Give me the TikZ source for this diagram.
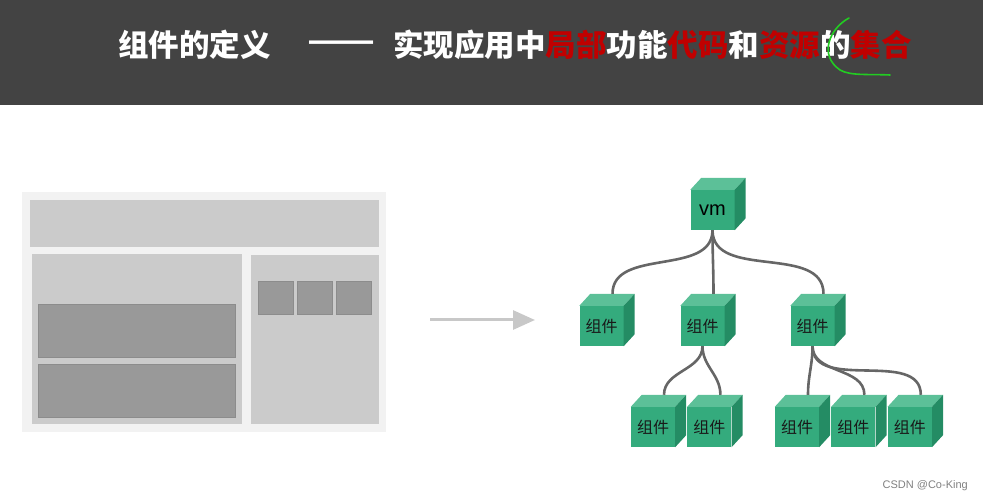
\documentclass[tikz,border=0pt]{standalone}
\usepackage{fontspec}
\setmainfont{Liberation Sans}
\newfontfamily\cjk{Noto Sans CJK SC}
\usetikzlibrary{positioning, calc, arrows.meta}

\definecolor{headbg}{HTML}{434343}
\definecolor{titlered}{HTML}{C00000}
\definecolor{pagebg}{HTML}{F2F2F2}
\definecolor{pagebox}{HTML}{CBCBCB}
\definecolor{pagedark}{HTML}{999999}
\definecolor{cubefront}{RGB}{52,171,125}
\definecolor{cubetop}{RGB}{92,192,152}
\definecolor{cubeside}{RGB}{36,140,100}
\definecolor{linkgray}{HTML}{666666}
\definecolor{arrowgray}{HTML}{C8C8C8}
\definecolor{penmark}{HTML}{22CC22}

\newcommand{\hl}[1]{\textcolor{titlered}{#1}}

\begin{document}
\begin{tikzpicture}[
    x=1pt, y=-1pt,
    % Styles
    title/.style={anchor=west, inner sep=0pt, text=white, font=\cjk\bfseries\fontsize{30.5}{31}\selectfont},
    block/.style={fill=pagebox},
    darkblock/.style={fill=pagedark, draw=black!45, line width=0.5pt},
    cube/.style={rectangle, fill=cubefront, minimum width=44pt, minimum height=40pt,
      inner sep=0pt, font=\cjk\fontsize{16}{16}\selectfont, text=black!90},
    link/.style={draw=linkgray, line width=2.6pt},
    lead/.style={draw=arrowgray, line width=3pt, -{Triangle[length=22pt, width=19pt]}}
  ]
  \useasboundingbox (0,0) rectangle (983,502);
  % 1. Header bar with the title
  \fill[headbg] (0,0) rectangle (983,105);
  \node[title] (name) at (118,45) {组件的定义};
  \node[title, transform shape, xscale=1.3] (dash) at (307,46) {——};
  \node[title] (meaning) at (393,45) {实现应用中\hl{局部}功能\hl{代码}和\hl{资源}的\hl{集合}};
  \draw[penmark, line width=1.6pt, line cap=round]
    (849,18) .. controls (830,28) and (818,55) .. (840,70)
    .. controls (850,76) and (870,74) .. (890,75);
  % 2. Page layout sketch
  \node[fill=pagebg, minimum width=364pt, minimum height=240pt, inner sep=0pt] (page) at (204,312) {};
  \fill[block] (30,200) rectangle (379,247);
  \fill[block] (32,254) rectangle (242,424);
  \fill[block] (251,255) rectangle (379,424);
  \filldraw[darkblock] (38,304) rectangle (235,357);
  \filldraw[darkblock] (38,364) rectangle (235,417);
  \foreach \x in {258,297,336}
    \filldraw[darkblock] (\x,281) rectangle ++(35,33);
  % 3. Arrow to the component tree
  \coordinate (from) at (430,320);
  \coordinate (to) at (535,320);
  \draw[lead] (from) -- (to);
  % 4. Component tree
  \node[cube, font=\fontsize{20}{20}\selectfont, text=black] (vm) at (712.5,210) {vm};
  \node[cube] (c1) at (601.5,326) {组件};
  \node[cube] (c2) at (702.5,326) {组件};
  \node[cube] (c3) at (812.5,326) {组件};
  \node[cube] (d1) at (653,427) {组件};
  \node[cube, right=12pt of d1] (d2) {组件};
  \node[cube] (e1) at (797,427) {组件};
  \node[cube, right=12pt of e1] (e2) {组件};
  \node[cube, right=12pt of e2] (e3) {组件};
  % top and side faces
  \foreach \n in {vm,c1,c2,c3,d1,d2,e1,e2,e3} {
    \fill[cubetop] (\n.north west) -- ++(11,-12) -- ([shift={(11,-12)}]\n.north east) -- (\n.north east) -- cycle;
    \fill[cubeside] (\n.north east) -- ++(11,-12) -- ([shift={(11,-12)}]\n.south east) -- (\n.south east) -- cycle;
  }
  % --- Connections ---
  \foreach \p/\c in {vm/c1, vm/c2, vm/c3, c2/d1, c2/d2, c3/e1, c3/e2, c3/e3}
    \draw[link] (\p.south) to[out=-90, in=90] ([shift={(11,-12)}]\c.north);
  % 5. Watermark
  \node[anchor=east, inner sep=0pt, text=black!50, font=\fontsize{11}{11}\selectfont] (mark) at (968,486) {CSDN @Co-King};
\end{tikzpicture}
\end{document}
